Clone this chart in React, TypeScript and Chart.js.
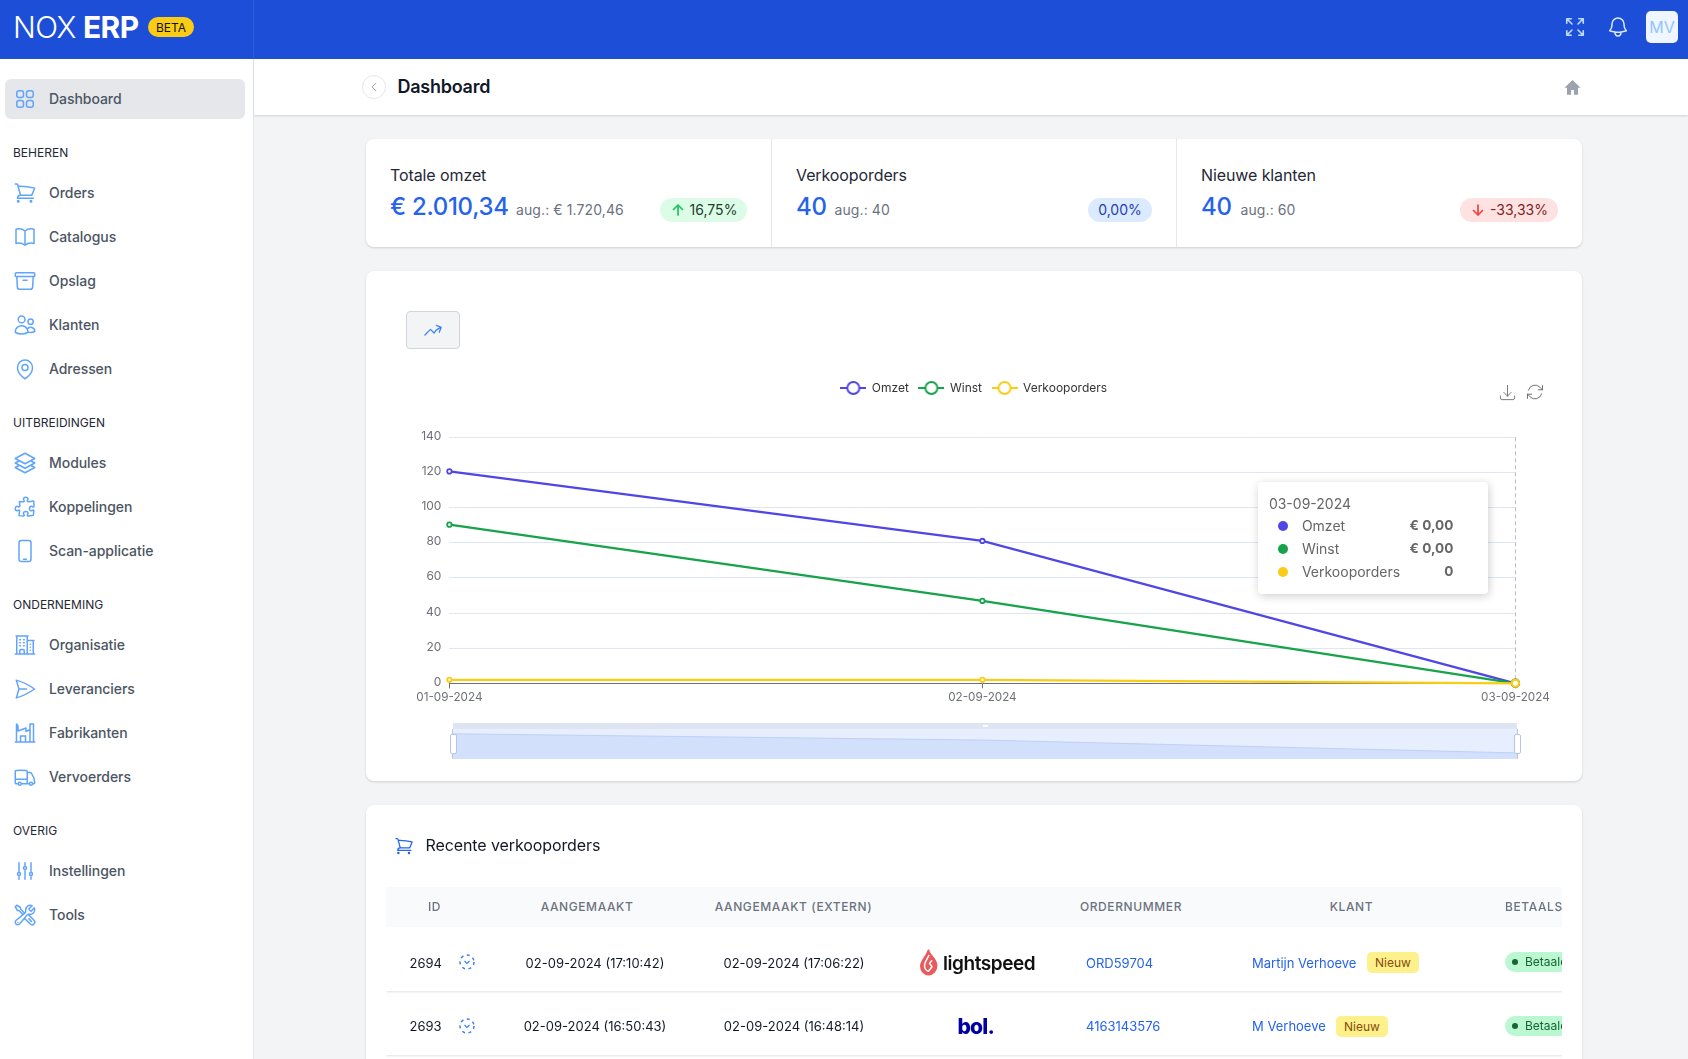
import React, { useEffect, useRef } from "react";
import { Chart, registerables } from "chart.js";

Chart.register(...registerables);

const categories = ["01-09-2024", "02-09-2024", "03-09-2024"];
const omzet = [120.6, 81, 0];
const winst = [90.3, 46.9, 0];
const verkooporders = [2, 2, 0];

const INDIGO = "#4f46e5";
const GREEN = "#16a34a";
const YELLOW = "#facc15";
const FONT = "Inter, 'Noto Sans', sans-serif";

const P: Record<string, string> = {
  grid: "M3.75 6A2.25 2.25 0 016 3.75h2.25A2.25 2.25 0 0110.5 6v2.25a2.25 2.25 0 01-2.25 2.25H6a2.25 2.25 0 01-2.25-2.25V6zM3.75 15.75A2.25 2.25 0 016 13.5h2.25a2.25 2.25 0 012.25 2.25V18a2.25 2.25 0 01-2.25 2.25H6A2.25 2.25 0 013.75 18v-2.25zM13.5 6a2.25 2.25 0 012.25-2.25H18A2.25 2.25 0 0120.25 6v2.25A2.25 2.25 0 0118 10.5h-2.25a2.25 2.25 0 01-2.25-2.25V6zM13.5 15.75a2.25 2.25 0 012.25-2.25H18a2.25 2.25 0 012.25 2.25V18A2.25 2.25 0 0118 20.25h-2.25A2.25 2.25 0 0113.5 18v-2.25z",
  cart: "M2.25 3h1.386c.51 0 .955.343 1.087.835l.383 1.437M7.5 14.25a3 3 0 00-3 3h15.75m-12.75-3h11.218c1.121-2.3 2.1-4.684 2.924-7.138a60.114 60.114 0 00-16.536-1.84M7.5 14.25L5.106 5.272M6 20.25a.75.75 0 11-1.5 0 .75.75 0 011.5 0zm12.75 0a.75.75 0 11-1.5 0 .75.75 0 011.5 0z",
  book: "M12 6.042A8.967 8.967 0 006 3.75c-1.052 0-2.062.18-3 .512v14.25A8.987 8.987 0 016 18c2.305 0 4.408.867 6 2.292m0-14.25a8.966 8.966 0 016-2.292c1.052 0 2.062.18 3 .512v14.25A8.987 8.987 0 0018 18a8.967 8.967 0 00-6 2.292m0-14.25v14.25",
  box: "M20.25 7.5l-.625 10.632a2.25 2.25 0 01-2.247 2.118H6.622a2.25 2.25 0 01-2.247-2.118L3.75 7.5M10 11.25h4M3.375 7.5h17.25c.621 0 1.125-.504 1.125-1.125v-1.5c0-.621-.504-1.125-1.125-1.125H3.375c-.621 0-1.125.504-1.125 1.125v1.5c0 .621.504 1.125 1.125 1.125z",
  users: "M15 19.128a9.38 9.38 0 002.625.372 9.337 9.337 0 004.121-.952 4.125 4.125 0 00-7.533-2.493M15 19.128v-.003c0-1.113-.285-2.16-.786-3.07M15 19.128v.106A12.318 12.318 0 018.624 21c-2.331 0-4.512-.645-6.374-1.766l-.001-.109a6.375 6.375 0 0111.964-3.07M12 6.375a3.375 3.375 0 11-6.75 0 3.375 3.375 0 016.75 0zm8.25 2.25a2.625 2.625 0 11-5.25 0 2.625 2.625 0 015.25 0z",
  pin: "M15 10.5a3 3 0 11-6 0 3 3 0 016 0z M19.5 10.5c0 7.142-7.5 11.25-7.5 11.25S4.5 17.642 4.5 10.5a7.5 7.5 0 1115 0z",
  stack: "M6.429 9.75L2.25 12l4.179 2.25m0-4.5l5.571 3 5.571-3m-11.142 0L2.25 7.5 12 2.25l9.75 5.25-4.179 2.25m0 0L21.75 12l-4.179 2.25m0 0l4.179 2.25L12 21.75 2.25 16.5l4.179-2.25m11.142 0l-5.571 3-5.571-3",
  puzzle: "M14.25 6.087c0-.355.186-.676.401-.959.221-.29.349-.634.349-1.003 0-1.036-1.007-1.875-2.25-1.875s-2.25.84-2.25 1.875c0 .369.128.713.349 1.003.215.283.401.604.401.959v0a.64.64 0 01-.657.643 48.39 48.39 0 01-4.163-.3c.186 1.613.293 3.25.315 4.907a.656.656 0 01-.658.663v0c-.355 0-.676-.186-.959-.401a1.647 1.647 0 00-1.003-.349c-1.036 0-1.875 1.007-1.875 2.25s.84 2.25 1.875 2.25c.369 0 .713-.128 1.003-.349.283-.215.604-.401.959-.401v0c.31 0 .555.26.532.57a48.039 48.039 0 01-.642 5.056c1.518.19 3.058.309 4.616.354a.64.64 0 00.657-.643v0c0-.355-.186-.676-.401-.959a1.647 1.647 0 01-.349-1.003c0-1.035 1.008-1.875 2.25-1.875 1.243 0 2.25.84 2.25 1.875 0 .369-.128.713-.349 1.003-.215.283-.4.604-.4.959v0c0 .333.277.599.61.58a48.1 48.1 0 005.427-.63 48.05 48.05 0 00.582-4.717.532.532 0 00-.533-.57v0c-.355 0-.676.186-.959.401-.29.221-.634.349-1.003.349-1.035 0-1.875-1.007-1.875-2.25s.84-2.25 1.875-2.25c.37 0 .713.128 1.003.349.283.215.604.401.96.401v0a.656.656 0 00.658-.663 48.422 48.422 0 00-.37-5.36c-1.886.342-3.81.574-5.766.689a.578.578 0 01-.61-.58v0z",
  phone: "M10.5 20.25h3M8.25 1.5h7.5A2.25 2.25 0 0118 3.75v16.5a2.25 2.25 0 01-2.25 2.25h-7.5A2.25 2.25 0 016 20.25V3.75A2.25 2.25 0 018.25 1.5z",
  office: "M2.25 21h19.5m-18-18v18m10.5-18v18m6-13.5V21M6.75 6.75h.75m-.75 3h.75m-.75 3h.75m3-6h.75m-.75 3h.75m-.75 3h.75M6.75 21v-3.375c0-.621.504-1.125 1.125-1.125h2.25c.621 0 1.125.504 1.125 1.125V21M3 3h12m-.75 4.5H21m-3.75 3.75h.008v.008h-.008v-.008zm0 3h.008v.008h-.008v-.008zm0 3h.008v.008h-.008v-.008z",
  plane: "M6 12L3.269 3.126A59.768 59.768 0 0121.485 12 59.77 59.77 0 013.27 20.876L5.999 12zm0 0h7.5",
  factory: "M2.25 21h19.5M3.5 21V3l1.5 2 0 5 8-3v3.5l4-2V21M17 9V3h3.5v18M7.5 21v-6h5v6",
  truck: "M8.25 18.75a1.5 1.5 0 01-3 0m3 0a1.5 1.5 0 00-3 0m3 0h6m-9 0H3.375a1.125 1.125 0 01-1.125-1.125V14.25m17.25 4.5a1.5 1.5 0 01-3 0m3 0a1.5 1.5 0 00-3 0m3 0h1.125c.621 0 1.129-.504 1.09-1.124a17.902 17.902 0 00-3.213-9.193 2.056 2.056 0 00-1.58-.86H14.25M16.5 18.75h-2.25m0-11.177v-.958c0-.568-.422-1.048-.987-1.106a48.554 48.554 0 00-10.026 0 1.106 1.106 0 00-.987 1.106v7.635m12-6.677v6.677m0 4.5v-4.5m0 0h-12",
  sliders: "M6 13.5V3.75m0 9.75a1.5 1.5 0 010 3m0-3a1.5 1.5 0 000 3m0 3.75V16.5m12-3V3.75m0 9.75a1.5 1.5 0 010 3m0-3a1.5 1.5 0 000 3m0 3.75V16.5m-6-9V3.75m0 3.75a1.5 1.5 0 010 3m0-3a1.5 1.5 0 000 3m0 9.75V10.5",
  tools: "M11.42 15.17L17.25 21A2.652 2.652 0 0021 17.25l-5.877-5.877M11.42 15.17l2.496-3.03c.317-.384.74-.626 1.208-.766M11.42 15.17l-4.655 5.653a2.548 2.548 0 11-3.586-3.586l6.837-5.63m5.108-.233c.55-.164 1.163-.188 1.743-.14a4.5 4.5 0 004.486-6.336l-3.276 3.277a3.004 3.004 0 01-2.25-2.25l3.276-3.276a4.5 4.5 0 00-6.336 4.486c.091 1.076-.071 2.264-.904 2.95l-.102.085m-1.745 1.437L5.909 7.5H4.5L2.25 3.75l1.5-1.5L7.5 4.5v1.409l4.26 4.26m-1.745 1.437l1.745-1.437m6.615 8.206L15.75 15.75M4.867 19.125h.008v.008h-.008v-.008z",
  expand: "M3.75 3.75v4.5m0-4.5h4.5m-4.5 0L9 9M3.75 20.25v-4.5m0 4.5h4.5m-4.5 0L9 15M20.25 3.75h-4.5m4.5 0v4.5m0-4.5L15 9m5.25 11.25h-4.5m4.5 0v-4.5m0 4.5L15 15",
  bell: "M14.857 17.082a23.848 23.848 0 005.454-1.31A8.967 8.967 0 0118 9.75v-.7V9A6 6 0 006 9v.75a8.967 8.967 0 01-2.312 6.022c1.733.64 3.56 1.085 5.455 1.31m5.714 0a24.255 24.255 0 01-5.714 0m5.714 0a3 3 0 11-5.714 0",
  trend: "M2.25 18L9 11.25l4.306 4.307a11.95 11.95 0 015.814-5.519l2.74-1.22m0 0l-5.94-2.28m5.94 2.28l-2.28 5.941",
  left: "M15.75 19.5L8.25 12l7.5-7.5",
  download: "M3 16.5v2.25A2.25 2.25 0 005.25 21h13.5A2.25 2.25 0 0021 18.75V16.5M16.5 12L12 16.5m0 0L7.5 12m4.5 4.5V3",
  refresh: "M16.023 9.348h4.992v-.001M2.985 19.644v-4.992m0 0h4.992m-4.993 0l3.181 3.183a8.25 8.25 0 0013.803-3.7M4.031 9.865a8.25 8.25 0 0113.803-3.7l3.181 3.182m0-4.991v4.99",
  up: "M12 19.5v-15m0 0l-6.75 6.75M12 4.5l6.75 6.75",
  down: "M12 4.5v15m0 0l6.75-6.75M12 19.5l-6.75-6.75",
};
const HOME = "M12 2.5L1.8 12.4h3.2V21h5.2v-6h3.6v6H19v-8.6h3.2z";

const sideItems: [string, string, number][] = [
  ["Orders", "cart", 193], ["Catalogus", "book", 237], ["Opslag", "box", 281], ["Klanten", "users", 325], ["Adressen", "pin", 369],
  ["Modules", "stack", 463], ["Koppelingen", "puzzle", 507], ["Scan-applicatie", "phone", 551],
  ["Organisatie", "office", 645], ["Leveranciers", "plane", 689], ["Fabrikanten", "factory", 733], ["Vervoerders", "truck", 777],
  ["Instellingen", "sliders", 871], ["Tools", "tools", 915],
];
const sideHeads: [string, number][] = [["BEHEREN", 153], ["UITBREIDINGEN", 423], ["ONDERNEMING", 605], ["OVERIG", 831]];
const tableHeads: [string, number][] = [["ID", 434.5], ["AANGEMAAKT", 587], ["AANGEMAAKT (EXTERN)", 793.5], ["ORDERNUMMER", 1131], ["KLANT", 1351.5]];
const orderRows = [
  { id: "2694", made: "02-09-2024 (17:10:42)", ext: "02-09-2024 (17:06:22)", num: "ORD59704", client: "Martijn Verhoeve", badge: 1367, y: 962.5, top: 933 },
  { id: "2693", made: "02-09-2024 (16:50:43)", ext: "02-09-2024 (16:48:14)", num: "4163143576", client: "M Verhoeve", badge: 1336, y: 1026, top: 997 },
];

const Icon = ({ d, cx, cy, size = 24, color = "#60a5fa", sw = 1.5, fill = "none" }: any) => (
  <svg viewBox="0 0 24 24" width={size} height={size} style={{ position: "absolute", left: cx - size / 2, top: cy - size / 2 }}
    fill={fill} stroke={fill === "none" ? color : "none"} strokeWidth={sw} strokeLinecap="round" strokeLinejoin="round">
    <path d={d} fill={fill} />
  </svg>
);

const T = ({ x, y, size = 14, color = "#4b5563", w = 400, c, ls, children }: any) => (
  <div style={{
    position: "absolute", left: x, top: y,
    transform: c ? "translate(-50%,-50%)" : "translateY(-50%)", fontSize: size, color, fontWeight: w,
    whiteSpace: "nowrap", lineHeight: 1, letterSpacing: ls,
  }}>{children}</div>
);

const Box = ({ x, y, w, h, style }: any) => (
  <div style={{ position: "absolute", left: x, top: y, width: w, height: h, boxSizing: "border-box", ...style }} />
);

const Badge = ({ x, x2, bg, color, label, icon, iconColor }: any) => (
  <div style={{
    position: "absolute", left: x, top: 198, width: x2 - x, height: 24, borderRadius: 12, background: bg, color,
    fontSize: 14, display: "flex", alignItems: "center", justifyContent: "center", gap: 4, whiteSpace: "nowrap", paddingBottom: 1, boxSizing: "border-box",
  }}>
    {icon && <svg viewBox="0 0 24 24" width={16} height={16} fill="none" stroke={iconColor} strokeWidth={2.6} strokeLinecap="round" strokeLinejoin="round"><path d={P[icon]} /></svg>}
    {label}
  </div>
);

const legendIcon = (color: string) => {
  const c = document.createElement("canvas");
  c.width = 26; c.height = 16;
  const g = c.getContext("2d")!;
  g.strokeStyle = color; g.lineWidth = 2;
  g.beginPath(); g.moveTo(0, 8); g.lineTo(26, 8); g.stroke();
  g.beginPath(); g.arc(13, 8, 6, 0, Math.PI * 2); g.fillStyle = "#fff"; g.fill(); g.stroke();
  return c;
};

const euro = (v: number) => "€ " + v.toFixed(2).replace(".", ",");

const CANVAS_LEFT = 366;
const CANVAS_TOP = 372;

export default function App() {
  const mainRef = useRef<HTMLCanvasElement>(null);
  const zoomRef = useRef<HTMLCanvasElement>(null);
  const tipRef = useRef<HTMLDivElement>(null);

  useEffect(() => {
    const series = [
      { label: "Omzet", data: omzet, color: INDIGO, order: 3 },
      { label: "Winst", data: winst, color: GREEN, order: 2 },
      { label: "Verkooporders", data: verkooporders, color: YELLOW, order: 1 },
    ];
    const crosshair = {
      id: "crosshair",
      beforeDatasetsDraw(chart: any) {
        const el = chart.getDatasetMeta(0).data[2];
        const { top, bottom } = chart.chartArea;
        const g = chart.ctx;
        g.save();
        g.strokeStyle = "#b9bcc4"; g.lineWidth = 1; g.setLineDash([4, 3]);
        g.beginPath(); g.moveTo(Math.round(el.x) + 0.5, top); g.lineTo(Math.round(el.x) + 0.5, bottom); g.stroke();
        g.restore();
      },
    };
    const legendSpace = {
      id: "legendSpace",
      beforeInit(chart: any) {
        const orig = chart.legend.fit;
        chart.legend.fit = function () {
          orig.call(this);
          this.height = 65.3;
        };
      },
      afterLayout(chart: any) {
        // centre the legend on the whole card, not on the padded layout box
        chart.legend.left = 0;
        chart.legend.right = chart.width;
        chart.legend.width = chart.width;
        chart.legend.adjustHitBoxes();
      },
    };
    const chart = new Chart(mainRef.current!, {
      type: "line",
      data: {
        labels: categories,
        datasets: series.map((s) => ({
          label: s.label, data: s.data, order: s.order, borderColor: s.color, backgroundColor: "#fff",
          borderWidth: 2.3, tension: 0, pointRadius: 2.2, pointBorderWidth: 1.8, pointBackgroundColor: "#fff", pointBorderColor: s.color,
          pointHoverRadius: 3.6, pointHoverBorderWidth: 2.2, pointHoverBackgroundColor: "#fff", pointHoverBorderColor: s.color, clip: false,
        })),
      },
      options: {
        responsive: false, animation: false, events: [],
        layout: { padding: { left: 0, right: 66.6, top: 0, bottom: 0 } },
        font: { family: FONT },
        scales: {
          x: {
            offset: false, afterFit: (s: any) => { s.height = 48.7; },
            grid: { drawOnChartArea: false, drawTicks: true, tickLength: 5, tickColor: "#6e7079" },
            border: { display: true, color: "#6e7079", width: 1 },
            ticks: { color: "#6e7079", padding: 2, maxRotation: 0, autoSkip: false, font: { family: FONT, size: 11.7 } },
          },
          y: {
            min: 0, max: 140, afterFit: (s: any) => { s.width = 83.4; },
            grid: { color: "#e0e6f1", drawTicks: false },
            border: { display: false },
            ticks: {
              stepSize: 20, color: "#6e7079", padding: 8, font: { family: FONT, size: 12, lineHeight: "2px" },
              callback: (v: any) => [String(v), ""],
            },
          },
        },
        plugins: {
          title: { display: false },
          legend: {
            position: "top", align: "center",
            labels: {
              usePointStyle: true, pointStyleWidth: 25, padding: 10, color: "#333", font: { family: FONT, size: 12 },
              generateLabels: () => series.map((s, i) => ({
                text: s.label, datasetIndex: i, pointStyle: legendIcon(s.color), fontColor: "#333", lineWidth: 0, hidden: false,
                strokeStyle: s.color, fillStyle: s.color,
              })),
            },
          },
          tooltip: {
            enabled: false,
            external: ({ chart: c, tooltip }: any) => {
              const tip = tipRef.current;
              if (!tip || !tooltip.dataPoints || !tooltip.dataPoints.length) return;
              tip.style.display = "block";
              tip.style.left = tooltip.caretX - 257 + "px";
              tip.style.top = c.chartArea.top + 45 + "px";
              const rows = tooltip.dataPoints.map((p: any) => {
                const isCount = p.dataset.label === "Verkooporders";
                const value = isCount ? String(p.parsed.y) : euro(p.parsed.y);
                return `<div style="position:relative;height:23px;line-height:23px">
                  <span style="position:absolute;left:20px;top:6.5px;width:10px;height:10px;border-radius:50%;background:${p.dataset.borderColor}"></span>
                  <span style="position:absolute;left:43.5px">${p.dataset.label}</span>
                  <span style="position:absolute;right:35px;font-weight:700;font-size:13.6px">${value}</span></div>`;
              }).join("");
              tip.innerHTML = `<div style="height:21px;line-height:21px;padding-left:10.5px">${tooltip.title[0]}</div>${rows}`;
            },
          },
        },
      },
      plugins: [crosshair, legendSpace],
    } as any);
    const active = [0, 1, 2].map((datasetIndex) => ({ datasetIndex, index: 2 }));
    chart.setActiveElements(active);
    const el: any = chart.getDatasetMeta(0).data[2];
    chart.tooltip!.setActiveElements(active, { x: el.x, y: el.y });
    chart.render();

    const zoom = new Chart(zoomRef.current!, {
      type: "line",
      data: {
        labels: categories,
        datasets: [{
          data: omzet, borderColor: "#bdd0f7", borderWidth: 1, backgroundColor: "#d2e0fb", fill: "start", pointRadius: 0, tension: 0,
        }],
      },
      options: {
        responsive: false, animation: false, events: [],
        layout: { padding: 0 },
        scales: { x: { display: false, offset: false }, y: { display: false, min: -38, max: 151 } },
        plugins: { legend: { display: false }, tooltip: { enabled: false } },
      },
    } as any);
    return () => { chart.destroy(); zoom.destroy(); };
  }, []);

  const card = { background: "#fff", borderRadius: 8, boxShadow: "0 1px 3px rgba(0,0,0,.1), 0 1px 2px rgba(0,0,0,.06)" };
  const tableClip = { position: "absolute" as const, left: 386, top: 887, width: 1176, height: 172, overflow: "hidden" };

  return (
    <div style={{ position: "fixed", left: 0, top: 0, width: 1688, height: 1059, overflow: "hidden", background: "#f3f4f6", fontFamily: FONT, color: "#111827" }}>
      {/* top bar */}
      <Box x={0} y={0} w={1688} h={59} style={{ background: "#1d4ed8" }} />
      <Box x={252.5} y={0} w={1} h={59} style={{ background: "#2f5cdc" }} />
      <T x={13} y={27} size={30} color="#fff" w={300} ls={-0.6}>NOX</T>
      <T x={83} y={27} size={30} color="#fff" w={700} ls={-0.6}>ERP</T>
      <div style={{ position: "absolute", left: 148, top: 17, width: 46, height: 20, borderRadius: 10, background: "#facc15", color: "#111", fontSize: 12, display: "flex", alignItems: "center", justifyContent: "center" }}>BETA</div>
      <Icon d={P.expand} cx={1575} cy={27} size={24} color="#bfdbfe" sw={1.6} />
      <Icon d={P.bell} cx={1618} cy={27} size={24} color="#dbeafe" />
      <div style={{ position: "absolute", left: 1646, top: 11, width: 32, height: 32, borderRadius: 5, background: "#eff6ff", color: "#93c5fd", fontSize: 16, display: "flex", alignItems: "center", justifyContent: "center" }}>MV</div>

      {/* sidebar */}
      <Box x={0} y={59} w={253.5} h={1000} style={{ background: "#fff", borderRight: "1px solid #e5e7eb" }} />
      <Box x={5} y={79} w={240} h={40} style={{ background: "#e5e7eb", borderRadius: 6 }} />
      <Icon d={P.grid} cx={25} cy={99} />
      <T x={49} y={99} w={500} ls={-0.05}>Dashboard</T>
      {sideHeads.map(([t, y]) => <T key={t} x={13} y={y} size={12} color="#1f2937">{t}</T>)}
      {sideItems.map(([t, ic, y]) => (
        <React.Fragment key={t}>
          <Icon d={P[ic]} cx={25} cy={y} />
          <T x={49} y={y} w={500} ls={-0.05}>{t}</T>
        </React.Fragment>
      ))}

      {/* title bar */}
      <Box x={253.5} y={59} w={1434.5} h={56} style={{ background: "#fff", boxShadow: "0 1px 2px rgba(0,0,0,.15)" }} />
      <Box x={362} y={75} w={24} h={24} style={{ border: "1px solid #e5e7eb", borderRadius: 12, background: "#fff" }} />
      <Icon d={P.left} cx={374} cy={87} size={12} color="#9ca3af" sw={2} />
      <T x={397.5} y={87} size={18} color="#111827" w={600} ls={-0.25}>Dashboard</T>
      <Icon d={HOME} cx={1572} cy={87} size={19} fill="#9ca3af" />

      {/* stats */}
      <Box x={366} y={139} w={1216} h={108} style={card} />
      <Box x={771} y={139} w={1} h={108} style={{ background: "#e5e7eb" }} />
      <Box x={1176} y={139} w={1} h={108} style={{ background: "#e5e7eb" }} />
      <T x={390} y={175} size={16} color="#1f2937" ls={-0.1}>Totale omzet</T>
      <T x={390} y={207} size={24} color="#2563eb" w={500} ls={-0.3}>€ 2.010,34</T>
      <T x={516} y={210} color="#6b7280" ls={0.1}>aug.: € 1.720,46</T>
      <Badge x={660} x2={747} bg="#dcfce7" color="#1f3d2b" label="16,75%" icon="up" iconColor="#22c55e" />
      <T x={796} y={175} size={16} color="#1f2937" ls={-0.1}>Verkooporders</T>
      <T x={796} y={207} size={24} color="#2563eb" w={500} ls={-0.3}>40</T>
      <T x={834.5} y={210} color="#6b7280" ls={0.1}>aug.: 40</T>
      <Badge x={1088} x2={1152} bg="#dbeafe" color="#1e40af" label="0,00%" />
      <T x={1201} y={175} size={16} color="#1f2937" ls={-0.1}>Nieuwe klanten</T>
      <T x={1201} y={207} size={24} color="#2563eb" w={500} ls={-0.3}>40</T>
      <T x={1240.5} y={210} color="#6b7280" ls={0.1}>aug.: 60</T>
      <Badge x={1460} x2={1558} bg="#fee2e2" color="#7f1d1d" label="-33,33%" icon="down" iconColor="#ef4444" />

      {/* chart card */}
      <Box x={366} y={271} w={1216} h={510} style={card} />
      <Box x={406} y={311} w={54} h={38} style={{ background: "#f3f4f6", border: "1px solid #d1d5db", borderRadius: 4 }} />
      <Icon d={P.trend} cx={433} cy={330} size={20} color="#3b82f6" />
      <Icon d={P.download} cx={1507} cy={392} size={19} color="#666" sw={1.1} />
      <Icon d={P.refresh} cx={1535} cy={392} size={20} color="#666" sw={1.1} />
      <div style={{ position: "absolute", left: CANVAS_LEFT, top: CANVAS_TOP, width: 1216, height: 360 }}>
        <canvas ref={mainRef} width={1216} height={360} style={{ display: "block", width: 1216, height: 360 }} />
        <div ref={tipRef} style={{ position: "absolute", display: "none", width: 230, height: 112, boxSizing: "border-box", paddingTop: 11, background: "#fff", borderRadius: 4, boxShadow: "1px 2px 10px rgba(0,0,0,.2)", fontSize: 14, color: "#666" }} />
      </div>
      {/* data zoom overview */}
      <Box x={452.5} y={722.7} w={1064.5} h={6.6} style={{ background: "#dfe4f3" }} />
      <Box x={983} y={725} w={5} h={2} style={{ background: "#fff" }} />
      <div style={{ position: "absolute", left: 452.5, top: 729.3, width: 1064.5, height: 29.7, background: "#e7eefd" }}>
        <canvas ref={zoomRef} width={1064} height={30} style={{ display: "block", width: 1064.5, height: 29.7 }} />
      </div>
      <Box x={452} y={729} w={1.2} h={30} style={{ background: "#b9c6e0" }} />
      <Box x={1516.5} y={729} w={1.2} h={30} style={{ background: "#b9c6e0" }} />
      <Box x={450} y={734} w={6.5} h={19.5} style={{ background: "#fff", border: "1px solid #b6c5e2", borderRadius: 2 }} />
      <Box x={1514} y={734} w={6.5} h={19.5} style={{ background: "#fff", border: "1px solid #b6c5e2", borderRadius: 2 }} />

      {/* recent orders */}
      <Box x={366} y={805} w={1216} h={280} style={card} />
      <Icon d={P.cart} cx={404} cy={845.5} size={20} color="#2563eb" />
      <T x={425.5} y={845} size={16} color="#111827" ls={-0.1}>Recente verkooporders</T>
      <div style={tableClip}>
        <Box x={0} y={0} w={1176} h={40} style={{ background: "#f9fafb" }} />
        {orderRows.map((r) => <Box key={r.id} x={0} y={r.top - 887} w={1176} h={58} style={{ background: "#fff", boxShadow: "0 1px 2px rgba(0,0,0,.12)" }} />)}
      </div>
      {tableHeads.map(([t, x]) => <T key={t} x={x} y={907} c size={12} color="#6b7280" w={500} ls={0.6}>{t}</T>)}
      <div style={tableClip}>
        <T x={1505 - 386} y={20} size={12} color="#6b7280" w={500} ls={0.6}>BETAALSTATUS</T>
        <div style={{ position: "absolute", left: 1505 - 386, top: 952 - 887, width: 72, height: 20, borderRadius: 10, background: "#bbf7d0", color: "#166534", fontSize: 12, lineHeight: "20px", paddingLeft: 20, boxSizing: "border-box" }}>Betaald</div>
        <div style={{ position: "absolute", left: 1505 - 386, top: 1016 - 887, width: 72, height: 20, borderRadius: 10, background: "#bbf7d0", color: "#166534", fontSize: 12, lineHeight: "20px", paddingLeft: 20, boxSizing: "border-box" }}>Betaald</div>
        <Box x={1512 - 386} y={959 - 887} w={6} h={6} style={{ borderRadius: 3, background: "#166534" }} />
        <Box x={1512 - 386} y={1023 - 887} w={6} h={6} style={{ borderRadius: 3, background: "#166534" }} />
      </div>
      {orderRows.map((r) => (
        <React.Fragment key={r.id}>
          <T x={409.5} y={r.y} size={13} color="#111827">{r.id}</T>
          <svg width={18} height={18} viewBox="0 0 18 18" style={{ position: "absolute", left: 458, top: r.y - 9.5 }} fill="none" stroke="#3b82f6" strokeWidth={1.5}>
            <circle cx={9} cy={9} r={7} strokeDasharray="3 3.5" />
            <path d="M6.5 8l2.5 2.5L11.5 8" strokeWidth={1.2} />
          </svg>
          <T x={595} y={r.y} c size={13} color="#111827">{r.made}</T>
          <T x={794} y={r.y} c size={13} color="#111827">{r.ext}</T>
          <T x={1086} y={r.y} size={13} color="#2563eb">{r.num}</T>
          <T x={1252} y={r.y} size={13} color="#2563eb">{r.client}</T>
          <div style={{ position: "absolute", left: r.badge, top: r.y - 10.5, width: 52, height: 21, borderRadius: 5, background: "#fef08a", color: "#854d0e", fontSize: 12, display: "flex", alignItems: "center", justifyContent: "center" }}>Nieuw</div>
        </React.Fragment>
      ))}
      {/* channel logos */}
      <svg width={18} height={27} viewBox="0 0 18 27" style={{ position: "absolute", left: 920, top: 949 }} fill="none" stroke="#ea5a5c" strokeLinejoin="round" strokeLinecap="round">
        <path d="M8.5 1.5C9 6 16.5 10 16.5 16.5c0 5-3.6 9-8 9s-7.5-4-7.5-8.5C1 12 6.5 8 8.5 1.5z" strokeWidth={2} fill="#ea5a5c" />
        <path d="M8.8 6.5C7.5 10 4.5 13 4.5 16.8c0 2.6 1.8 5 4 5.4l3.5-4.5-2.4-3.4 2-2.6" stroke="#fff" strokeWidth={1.5} />
      </svg>
      <T x={943} y={963} size={19} color="#111" w={600} ls={-0.45}>lightspeed</T>
      <T x={957.5} y={1026} size={21} color="#0000a4" w={800} ls={-0.8}>bol.</T>
    </div>
  );
}
